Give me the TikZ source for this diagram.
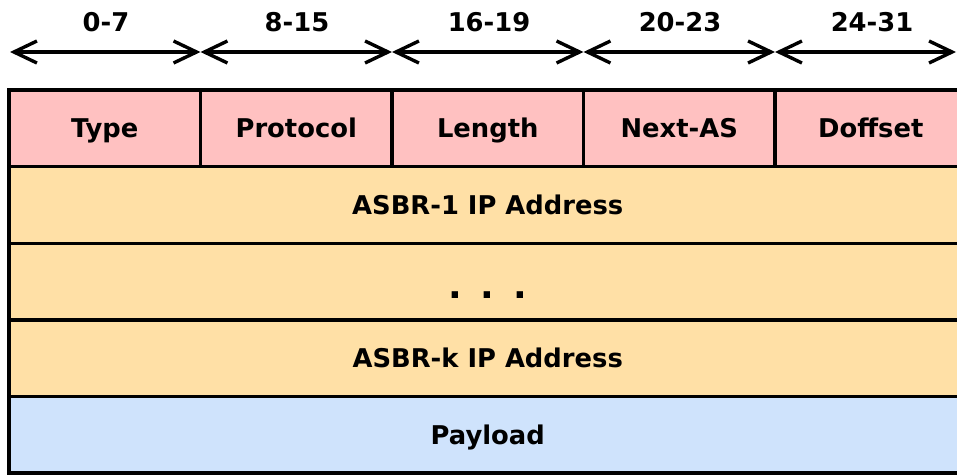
\documentclass[tikz,border=0pt]{standalone}
\usepackage{fontspec}
\setmainfont{DejaVu Sans}
\usetikzlibrary{arrows.meta}
\definecolor{hdrpink}{HTML}{FFC1C1}
\definecolor{addrtan}{HTML}{FFE0A6}
\definecolor{loadblue}{HTML}{CFE3FC}
\begin{document}
\begin{tikzpicture}[x=1pt,y=-1pt,
  lbl/.style={font=\fontsize{25.8}{30}\selectfont\bfseries, inner sep=0pt, anchor=base},
  cell/.style={draw=black, line width=3.4pt, minimum width=191.5pt, minimum height=76.6pt,
    inner sep=0pt, text height=18.8pt, text depth=0pt,
    font=\fontsize{25.8}{30}\selectfont\bfseries},
  wide/.style={cell, minimum width=957.5pt},
  span/.style={line width=3.4pt,
    {Straight Barb[length=23pt,width=22pt,line cap=butt,line join=miter]}-{Straight Barb[length=23pt,width=22pt,line cap=butt,line join=miter]}}]
\useasboundingbox (0,0) rectangle (957,474);
\clip (0,0) rectangle (957,474);

% bit ranges
\coordinate (b0) at (10,52);
\coordinate (b1) at (200.5,52);
\coordinate (b2) at (392,52);
\coordinate (b3) at (583.5,52);
\coordinate (b4) at (775,52);
\coordinate (b5) at (956,52);
\draw[span] (b0) -- (b1);
\draw[span] (b1) -- (b2);
\draw[span] (b2) -- (b3);
\draw[span] (b3) -- (b4);
\draw[span] (b4) -- (b5);
\node[lbl] (r0) at (106,31.7) {0-7};
\node[lbl] (r1) at (297,31.7) {8-15};
\node[lbl] (r2) at (489,31.7) {16-19};
\node[lbl] (r3) at (680,31.7) {20-23};
\node[lbl] (r4) at (872,31.7) {24-31};

% header fields
\node[cell, fill=hdrpink] (type)  at (104.75,128.3) {Type};
\node[cell, fill=hdrpink] (proto) at (296.25,128.3) {Protocol};
\node[cell, fill=hdrpink] (len)   at (487.75,128.3) {Length};
\node[cell, fill=hdrpink] (next)  at (679.25,128.3) {Next-AS};
\node[cell, fill=hdrpink] (doff)  at (870.75,128.3) {Doffset};

% address list and payload
\node[wide, fill=addrtan] (asbr1) at (487.75,204.9) {ASBR-1 IP Address};
\node[wide, fill=addrtan] (gap)   at (487.75,281.5) {};
\node[wide, fill=addrtan] (asbrk) at (487.75,358.1) {ASBR-k IP Address};
\node[wide, fill=loadblue] (load) at (487.75,434.7) {Payload};
\node[font=\fontsize{36}{40}\selectfont\bfseries, inner sep=0pt, anchor=base]
  (dots) at (487.75,298) {.\hskip19pt.\hskip19pt.};
\end{tikzpicture}
\end{document}
